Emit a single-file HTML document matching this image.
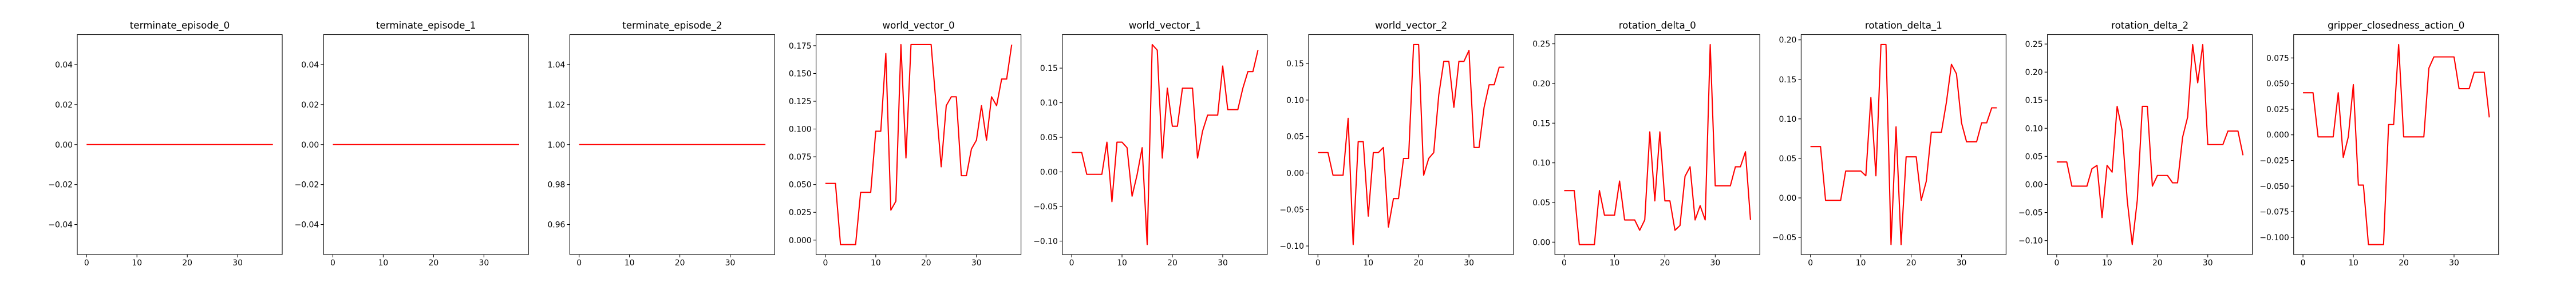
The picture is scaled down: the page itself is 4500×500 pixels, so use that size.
<!DOCTYPE html>
<html><head><meta charset="utf-8"><style>
html,body{margin:0;padding:0;background:#fff;}
svg{display:block;font-family:"DejaVu Sans","Liberation Sans",sans-serif;}
</style></head><body>
<svg id="fig" width="4500" height="500" viewBox="0 0 4500 500" xmlns="http://www.w3.org/2000/svg"></svg>
<script>
const titles = ["terminate_episode_0","terminate_episode_1","terminate_episode_2","world_vector_0","world_vector_1","world_vector_2","rotation_delta_0","rotation_delta_1","rotation_delta_2","gripper_closedness_action_0"];
const xTicks = [0,10,20,30];
const terminate0 = Array(38).fill(0);
const terminate1 = Array(38).fill(0);
const terminate2 = Array(38).fill(1);
const worldVector0 = [0.051,0.051,0.051,-0.004,-0.004,-0.004,-0.004,0.043,0.043,0.043,0.098,0.098,0.168,0.027,0.035,0.176,0.074,0.176,0.176,0.176,0.176,0.176,0.121,0.066,0.121,0.129,0.129,0.058,0.058,0.082,0.090,0.121,0.090,0.129,0.121,0.145,0.145,0.176];
const worldVector1 = [0.028,0.028,0.028,-0.0035,-0.0035,-0.0035,-0.0035,0.043,-0.043,0.043,0.043,0.035,-0.035,-0.004,0.035,-0.105,0.184,0.176,0.020,0.121,0.066,0.066,0.121,0.121,0.121,0.020,0.059,0.082,0.082,0.082,0.153,0.090,0.090,0.090,0.121,0.145,0.145,0.176];
const worldVector2 = [0.028,0.028,0.028,-0.003,-0.003,-0.003,0.075,-0.098,0.043,0.043,-0.059,0.028,0.028,0.035,-0.074,-0.035,-0.035,0.020,0.020,0.176,0.176,-0.003,0.020,0.028,0.107,0.153,0.153,0.090,0.153,0.153,0.168,0.035,0.035,0.090,0.121,0.121,0.145,0.145];
const rotationDelta0 = [0.065,0.065,0.065,-0.003,-0.003,-0.003,-0.003,0.065,0.034,0.034,0.034,0.077,0.028,0.028,0.028,0.015,0.028,0.139,0.052,0.139,0.052,0.052,0.015,0.021,0.083,0.095,0.028,0.046,0.028,0.249,0.071,0.071,0.071,0.071,0.095,0.095,0.114,0.028];
const rotationDelta1 = [0.065,0.065,0.065,-0.003,-0.003,-0.003,-0.003,0.034,0.034,0.034,0.034,0.028,0.127,0.028,0.194,0.194,-0.059,0.090,-0.059,0.052,0.052,0.052,-0.003,0.021,0.083,0.083,0.083,0.121,0.169,0.157,0.095,0.071,0.071,0.071,0.095,0.095,0.114,0.114];
const rotationDelta2 = [0.040,0.040,0.040,-0.003,-0.003,-0.003,-0.003,0.028,0.034,-0.059,0.034,0.022,0.139,0.096,-0.028,-0.107,-0.028,0.139,0.139,-0.003,0.016,0.016,0.016,0.003,0.003,0.084,0.120,0.249,0.181,0.249,0.071,0.071,0.071,0.071,0.095,0.095,0.095,0.052];
const gripper0 = [0.041,0.041,0.041,-0.002,-0.002,-0.002,-0.002,0.041,-0.022,-0.002,0.049,-0.049,-0.049,-0.107,-0.107,-0.107,-0.107,0.010,0.010,0.088,-0.002,-0.002,-0.002,-0.002,-0.002,0.065,0.076,0.076,0.076,0.076,0.076,0.045,0.045,0.045,0.061,0.061,0.061,0.017];
const series = [terminate0,terminate1,terminate2,worldVector0,worldVector1,worldVector2,rotationDelta0,rotationDelta1,rotationDelta2,gripper0];
const yTicks0 = [-0.04,-0.02,0,0.02,0.04];
const yTicks2 = [0.96,0.98,1.00,1.02,1.04];
const yTicksWV0 = [0,0.025,0.05,0.075,0.1,0.125,0.15,0.175];
const yTicks005 = [-0.10,-0.05,0,0.05,0.10,0.15];
const yTicksRD0 = [0,0.05,0.10,0.15,0.20,0.25];
const yTicksRD1 = [-0.05,0,0.05,0.10,0.15,0.20];
const yTicksRD2 = [-0.10,-0.05,0,0.05,0.10,0.15,0.20,0.25];
const yTicksG = [-0.1,-0.075,-0.05,-0.025,0,0.025,0.05,0.075];
const yTickSets = [yTicks0,yTicks0,yTicks2,yTicksWV0,yTicks005,yTicks005,yTicksRD0,yTicksRD1,yTicksRD2,yTicksG];
const yDecimals = [2,2,2,3,2,2,2,2,2,3];

const NS="http://www.w3.org/2000/svg";
const svg=document.getElementById('fig');
function mk(tag,attrs,parent){const e=document.createElementNS(NS,tag);for(const k in attrs)e.setAttribute(k,attrs[k]);(parent||svg).appendChild(e);return e;}
function fmt(v,d){let s=Math.abs(v).toFixed(d);return (v<-1e-12?'\u2212':'')+s;}

const TOP=60.5,BOT=445,W=358;
series.forEach((data,i)=>{
  const L=135+430.2*i, R=L+W;
  const g=mk('g',{});
  
  
  const n=data.length;
  const x0=-0.05*(n-1), x1=(n-1)*1.05;
  const xs=v=>L+(v-x0)/(x1-x0)*W;
  let mn=Math.min(...data), mx=Math.max(...data), y0,y1;
  if(mx-mn<1e-12){const p=mn===0?0.055:0.055*Math.abs(mn);y0=mn-p;y1=mx+p;}
  else{const p=0.05*(mx-mn);y0=mn-p;y1=mx+p;}
  const ys=v=>BOT-(v-y0)/(y1-y0)*(BOT-TOP);
  const t=mk('text',{x:(L+R)/2,y:50,'text-anchor':'middle','font-size':'16.7px',fill:'#000'},g);
  t.textContent=titles[i];
  
  
  xTicks.forEach(v=>{
    const x=xs(v);
    mk('line',{x1:x,x2:x,y1:BOT,y2:BOT+4.9,stroke:'#000','stroke-width':1.1},g);
    const tl=mk('text',{x:x,y:BOT+19,'text-anchor':'middle','font-size':'13.9px',fill:'#000'},g);
    tl.textContent=String(v);
    
    
  });
  yTickSets[i].forEach(v=>{
    const y=ys(v);
    mk('line',{x1:L-4.9,x2:L,y1:y,y2:y,stroke:'#000','stroke-width':1.1},g);
    const tl=mk('text',{x:L-8,y:y+5,'text-anchor':'end','font-size':'13.9px',fill:'#000'},g);
    tl.textContent=fmt(v,yDecimals[i]);
    
    
  });
  const pts=data.map((v,k)=>xs(k).toFixed(2)+','+ys(v).toFixed(2)).join(' ');
  const pl=mk('polyline',{points:pts,fill:'none',stroke:'#ff0000','stroke-width':2.1,'stroke-linejoin':'round'},g);
  
  
  const fr=mk('rect',{x:L,y:TOP,width:W,height:BOT-TOP,fill:'none',stroke:'#000','stroke-width':1.1},g);
  
  
});
</script>
</body></html>
